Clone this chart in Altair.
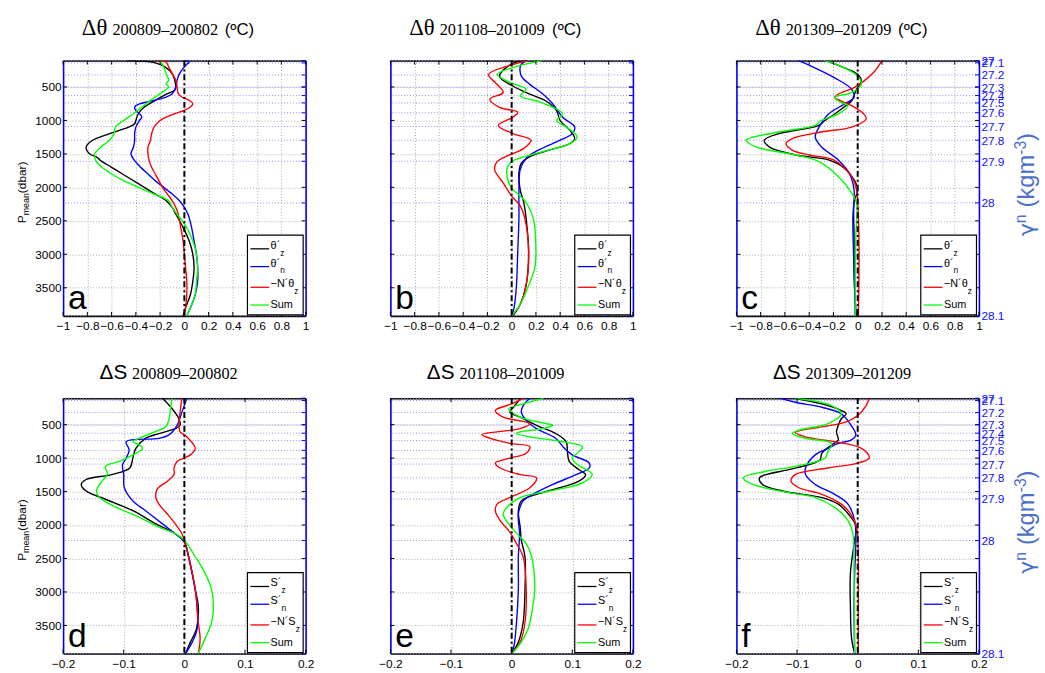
import altair as alt
import pandas as pd

W, H = 246, 259
P_DOMAIN = [105, 3920]
P_TICKS = [500, 1000, 1500, 2000, 2500, 3000, 3500]
THETA_TICKS = [-1, -0.8, -0.6, -0.4, -0.2, 0, 0.2, 0.4, 0.6, 0.8, 1]
S_TICKS = [-0.2, -0.1, 0, 0.1, 0.2]
GAMMA_P = [105, 140, 320, 502, 628, 738, 885, 1090, 1295, 1610, 2232, 3920]
GAMMA_LABELS = ["27", "27.1", "27.2", "27.3", "27.4", "27.5", "27.6", "27.7", "27.8", "27.9", "28", "28.1"]
SERIES = ["z", "n", "N", "sum"]
COLORS = ["#000000", "#0000ff", "#ff0000", "#00ff00"]

# ---- panel a : delta theta 200809-200802 (pressure, value)
a_z = [(105,-0.48),(120,-0.3),(150,-0.22),(200,-0.16),(300,-0.1),(400,-0.08),(500,-0.07),(550,-0.08),(600,-0.14),(700,-0.24),(800,-0.33),(900,-0.38),(1000,-0.4),(1050,-0.41),(1100,-0.46),(1200,-0.62),(1300,-0.76),(1400,-0.81),(1500,-0.78),(1550,-0.72),(1600,-0.69),(1700,-0.6),(1800,-0.51),(1900,-0.42),(2000,-0.33),(2100,-0.24),(2200,-0.15),(2300,-0.1),(2400,-0.07),(2600,-0.01),(2800,0.04),(3000,0.07),(3200,0.08),(3400,0.07),(3600,0.05),(3800,0.01),(3920,-0.01)]
a_n = [(105,0.01),(130,0.04),(160,0.02),(200,0.0),(300,-0.04),(400,-0.06),(500,-0.07),(600,-0.1),(650,-0.15),(700,-0.25),(760,-0.38),(800,-0.41),(850,-0.4),(900,-0.37),(950,-0.35),(1000,-0.37),(1100,-0.4),(1200,-0.41),(1300,-0.41),(1400,-0.42),(1500,-0.44),(1600,-0.41),(1700,-0.36),(1800,-0.3),(1900,-0.24),(2000,-0.17),(2100,-0.1),(2200,-0.04),(2300,0.0),(2400,0.03),(2600,0.06),(2800,0.08),(3000,0.1),(3200,0.11),(3400,0.11),(3600,0.09),(3800,0.05),(3920,0.02)]
a_N = [(105,-0.23),(130,-0.15),(200,-0.13),(300,-0.1),(400,-0.07),(500,-0.06),(600,-0.05),(650,-0.02),(700,0.04),(750,0.07),(800,0.05),(850,0.0),(900,-0.08),(950,-0.15),(1000,-0.2),(1100,-0.25),(1200,-0.27),(1300,-0.28),(1400,-0.3),(1500,-0.3),(1600,-0.29),(1700,-0.27),(1800,-0.24),(1900,-0.21),(2000,-0.18),(2100,-0.14),(2200,-0.1),(2300,-0.07),(2400,-0.05),(2600,-0.03),(2800,-0.01),(3000,0.0),(3200,0.01),(3400,0.02),(3600,0.02),(3800,0.01),(3920,0.0)]
a_sum = [(105,-0.2),(200,-0.17),(300,-0.15),(400,-0.13),(450,-0.15),(500,-0.13),(600,-0.2),(700,-0.28),(800,-0.35),(900,-0.42),(1000,-0.5),(1100,-0.57),(1200,-0.58),(1300,-0.62),(1400,-0.69),(1500,-0.74),(1600,-0.73),(1700,-0.68),(1800,-0.6),(1900,-0.5),(2000,-0.38),(2100,-0.25),(2200,-0.13),(2300,-0.1),(2400,-0.06),(2600,0.02),(2800,0.07),(3000,0.1),(3200,0.11),(3400,0.1),(3600,0.09),(3800,0.05),(3920,0.02)]

# ---- panel b : delta theta 201108-201009
b_z = [(107,0.11),(156,0.0),(338,-0.1),(485,0.01),(608,0.15),(706,0.28),(854,0.37),(1001,0.4),(1148,0.48),(1271,0.52),(1345,0.48),(1443,0.31),(1541,0.15),(1639,0.08),(1786,0.06),(2032,0.07),(2228,0.1),(2474,0.12),(2965,0.14),(3456,0.12),(3750,0.07),(3920,0.01)]
b_n = [(107,0.12),(160,0.08),(200,0.07),(338,0.08),(461,0.15),(608,0.26),(755,0.34),(952,0.42),(1099,0.52),(1197,0.5),(1295,0.4),(1443,0.22),(1565,0.12),(1737,0.07),(2032,0.06),(2474,0.06),(2965,0.05),(3456,0.04),(3800,0.02),(3920,0.0)]
b_N = [(107,0.14),(166,0.01),(313,-0.19),(461,-0.12),(583,-0.07),(682,-0.18),(804,-0.1),(878,0.05),(952,0.01),(1074,-0.11),(1197,0.01),(1295,0.16),(1418,0.1),(1615,-0.12),(1737,-0.14),(1934,-0.07),(2130,0.0),(2277,0.07),(2474,0.11),(2965,0.14),(3456,0.12),(3750,0.07),(3920,0.0)]
b_sum = [(107,0.25),(210,0.01),(313,-0.12),(436,-0.01),(534,0.12),(633,0.07),(706,0.2),(804,0.34),(903,0.42),(1001,0.37),(1099,0.45),(1246,0.54),(1345,0.48),(1467,0.26),(1615,0.0),(1737,-0.04),(1983,-0.01),(2130,0.07),(2228,0.12),(2474,0.18),(2965,0.2),(3210,0.19),(3554,0.12),(3750,0.07),(3920,0.0)]

# ---- panel c : delta theta 201309-201209
c_z = [(107,-0.26),(191,-0.14),(313,0.0),(412,0.03),(534,-0.01),(706,-0.05),(755,-0.08),(903,-0.19),(1001,-0.27),(1074,-0.32),(1148,-0.51),(1197,-0.65),(1295,-0.77),(1394,-0.73),(1516,-0.51),(1590,-0.24),(1713,-0.11),(1885,-0.03),(2032,0.0),(2228,-0.03),(2719,-0.03),(3210,-0.03),(3701,-0.02),(3920,-0.01)]
c_n = [(107,-0.49),(191,-0.38),(363,-0.19),(534,-0.05),(657,-0.03),(755,-0.11),(903,-0.24),(1074,-0.31),(1246,-0.35),(1394,-0.3),(1590,-0.16),(1786,-0.07),(2032,-0.03),(2474,-0.04),(3210,-0.03),(3920,-0.02)]
c_N = [(107,0.2),(264,0.14),(412,0.05),(510,-0.03),(608,-0.16),(657,-0.19),(706,-0.14),(780,-0.05),(903,0.05),(976,0.07),(1099,-0.05),(1173,-0.3),(1271,-0.54),(1345,-0.59),(1443,-0.54),(1516,-0.4),(1590,-0.2),(1836,-0.05),(2032,-0.01),(2228,0.0),(2719,0.01),(3456,0.01),(3920,0.005)]
c_sum = [(107,-0.27),(191,-0.14),(338,0.0),(461,0.03),(583,-0.05),(657,-0.19),(731,-0.14),(780,-0.08),(903,-0.16),(1001,-0.3),(1074,-0.35),(1173,-0.65),(1295,-0.92),(1394,-0.84),(1516,-0.51),(1615,-0.32),(1836,-0.16),(2081,-0.05),(2228,-0.01),(2719,-0.015),(3210,-0.02),(3920,-0.02)]

# ---- panel d : delta S 200809-200802
d_z = [(107,-0.036),(264,-0.02),(412,-0.009),(510,-0.007),(559,-0.015),(633,-0.042),(706,-0.064),(854,-0.08),(1001,-0.085),(1148,-0.09),(1246,-0.12),(1320,-0.162),(1394,-0.17),(1492,-0.162),(1615,-0.13),(1786,-0.085),(1983,-0.047),(2130,-0.015),(2253,0.0),(2474,0.007),(2965,0.018),(3210,0.023),(3554,0.02),(3750,0.01),(3920,0.002)]
d_n = [(107,0.004),(313,-0.004),(510,-0.012),(657,-0.026),(706,-0.042),(755,-0.096),(878,-0.091),(1001,-0.096),(1099,-0.102),(1246,-0.1),(1443,-0.099),(1639,-0.085),(1786,-0.064),(1983,-0.036),(2130,-0.015),(2253,0.0),(2474,0.007),(2965,0.018),(3210,0.021),(3554,0.021),(3750,0.013),(3920,0.002)]
d_N = [(107,-0.004),(313,-0.007),(510,-0.009),(608,-0.007),(682,0.004),(854,0.018),(952,0.01),(1001,-0.001),(1050,-0.012),(1148,-0.017),(1246,-0.017),(1345,-0.028),(1467,-0.045),(1590,-0.047),(1688,-0.042),(1836,-0.028),(1983,-0.015),(2130,-0.004),(2277,0.001),(2474,0.007),(2965,0.018),(3456,0.023),(3701,0.026),(3920,0.023)]
d_sum = [(107,-0.02),(264,-0.023),(412,-0.025),(534,-0.031),(583,-0.042),(682,-0.069),(755,-0.085),(804,-0.074),(854,-0.069),(952,-0.085),(1050,-0.107),(1124,-0.13),(1246,-0.127),(1345,-0.136),(1492,-0.145),(1590,-0.14),(1737,-0.112),(1885,-0.074),(2032,-0.042),(2130,-0.015),(2228,0.0),(2474,0.018),(2719,0.034),(2965,0.045),(3210,0.048),(3456,0.045),(3701,0.034),(3920,0.023)]

# ---- panel e : delta S 201108-201009
e_z = [(117,0.014),(240,0.003),(313,-0.003),(387,0.014),(510,0.041),(633,0.073),(755,0.09),(903,0.092),(1050,0.095),(1173,0.111),(1246,0.122),(1345,0.111),(1443,0.079),(1541,0.041),(1639,0.016),(1786,0.011),(2032,0.014),(2228,0.016),(2474,0.022),(2965,0.022),(3456,0.019),(3750,0.011),(3920,0.0)]
e_n = [(107,0.03),(215,0.019),(313,0.016),(436,0.024),(559,0.041),(706,0.073),(854,0.087),(952,0.1),(1074,0.128),(1148,0.128),(1246,0.106),(1394,0.068),(1541,0.035),(1639,0.019),(1836,0.011),(2130,0.013),(2474,0.011),(2965,0.011),(3456,0.008),(3800,0.004),(3920,0.0)]
e_N = [(107,0.019),(191,0.0),(289,-0.027),(387,-0.014),(485,0.03),(559,0.014),(608,-0.024),(647,-0.049),(706,-0.035),(780,-0.003),(829,0.03),(927,0.024),(1001,-0.003),(1074,-0.027),(1148,-0.019),(1246,0.014),(1295,0.041),(1443,0.03),(1565,0.003),(1688,-0.024),(1786,-0.027),(1934,-0.019),(2106,-0.003),(2277,0.008),(2474,0.019),(2965,0.024),(3456,0.022),(3750,0.014),(3920,0.0)]
e_sum = [(107,0.052),(191,0.019),(264,-0.005),(387,0.014),(485,0.057),(510,0.068),(559,0.052),(608,0.014),(633,0.008),(682,0.03),(755,0.084),(829,0.117),(903,0.111),(1001,0.1),(1099,0.109),(1197,0.128),(1246,0.133),(1369,0.117),(1492,0.063),(1590,0.014),(1737,-0.008),(1836,-0.014),(1983,-0.005),(2179,0.014),(2277,0.024),(2474,0.033),(2965,0.038),(3210,0.035),(3554,0.027),(3775,0.014),(3920,0.0)]

# ---- panel f : delta S 201309-201209
f_z = [(107,-0.103),(215,-0.049),(289,-0.027),(338,-0.019),(412,-0.027),(510,-0.032),(608,-0.035),(731,-0.032),(804,-0.043),(927,-0.059),(1025,-0.062),(1099,-0.081),(1173,-0.114),(1295,-0.162),(1394,-0.157),(1492,-0.124),(1590,-0.059),(1688,-0.032),(1885,-0.011),(2032,-0.002),(2228,-0.005),(2719,-0.012),(3210,-0.012),(3701,-0.01),(3920,-0.005)]
f_n = [(107,-0.127),(166,-0.103),(240,-0.059),(338,-0.027),(510,-0.011),(657,-0.003),(731,-0.011),(780,-0.032),(854,-0.049),(952,-0.07),(1148,-0.086),(1246,-0.086),(1394,-0.07),(1541,-0.038),(1688,-0.016),(1934,-0.005),(2228,-0.003),(2719,-0.005),(3210,-0.006),(3920,-0.005)]
f_N = [(107,0.019),(215,0.014),(363,0.0),(461,-0.02),(534,-0.06),(618,-0.103),(682,-0.086),(755,-0.038),(829,0.0),(927,0.016),(1001,0.019),(1074,0.0),(1148,-0.049),(1246,-0.103),(1345,-0.11),(1443,-0.097),(1541,-0.059),(1688,-0.027),(1885,-0.008),(2081,-0.001),(2474,0.001),(3210,0.001),(3920,0.001)]
f_sum = [(107,-0.103),(215,-0.043),(338,-0.027),(485,-0.049),(583,-0.097),(633,-0.108),(706,-0.086),(780,-0.043),(903,-0.049),(1001,-0.054),(1124,-0.103),(1197,-0.151),(1295,-0.189),(1394,-0.173),(1516,-0.114),(1590,-0.07),(1737,-0.038),(1934,-0.016),(2130,-0.008),(2719,-0.006),(3920,-0.005)]

DUMMY = pd.DataFrame({"d": [0]})
GAMMA_DF = pd.DataFrame({"p": GAMMA_P, "g": GAMMA_LABELS})
PT_DF = pd.DataFrame({"p": P_TICKS})
ZERO_DF = pd.DataFrame({"x0": [0]})
LABEL_EXPR = " : ".join(f"datum.value == {p} ? '{g}'" for p, g in zip(GAMMA_P, GAMMA_LABELS)) + " : ''"
GRID = "#a9a9a9"
RTITLE = "#4a6fcc"


def txt(s, x, y, size, font="Liberation Sans", color="black", baseline="alphabetic", angle=0):
    kw = dict(text=s, font=font, fontSize=size, color=color, align="left", baseline=baseline)
    if angle:
        kw["angle"] = angle
    return alt.Chart(DUMMY).mark_text(**kw).encode(x=alt.value(x), y=alt.value(y))


def spacer(x, y):
    # tiny white stroke outside the plot, only used to fix the panel's layout bounds
    return alt.Chart(DUMMY).mark_rule(color="white", strokeWidth=1).encode(
        x=alt.value(x), x2=alt.value(x + 0.5), y=alt.value(y), y2=alt.value(y + 0.5))


def make_panel(series, xdom, xticks, letter, sym, dates, row, left_title, right_axis):
    recs = []
    for key, pts in zip(SERIES, series):
        for p, v in pts:
            recs.append({"p": p, "v": v, "series": key})
    df = pd.DataFrame(recs)
    xt_df = pd.DataFrame({"t": xticks})
    xs = alt.Scale(domain=xdom, nice=False, zero=False)
    ys = alt.Scale(domain=P_DOMAIN, reverse=True, nice=False, zero=False)

    gamma = alt.Chart(GAMMA_DF).mark_rule(color="#8f8fff", strokeDash=[1, 2], strokeWidth=1).encode(
        y=alt.Y("p:Q", scale=ys, axis=alt.Axis(
            orient="right", values=GAMMA_P, labelExpr=LABEL_EXPR, labels=right_axis, ticks=False,
            grid=False, domainColor="#0000ff", domainWidth=1.6, labelColor="#1010ff",
            labelFont="Liberation Sans", labelFontSize=12, labelPadding=2, labelOverlap=False,
            labelBaseline="middle", labelBound=False, title=None)))

    lines = alt.Chart(df).mark_line(interpolate="catmull-rom", strokeWidth=1.4, clip=True).encode(
        x=alt.X("v:Q", scale=xs, axis=alt.Axis(
            orient="bottom", values=xticks, format="~g", ticks=False, grid=True, gridColor=GRID,
            gridDash=[1, 2], gridWidth=1, domainColor="black", domainWidth=1.6,
            labelFont="Liberation Sans", labelFontSize=12, labelColor="black", labelPadding=5,
            labelFlush=False, labelOverlap=False, title=None)),
        y=alt.Y("p:Q", scale=ys, axis=alt.Axis(
            orient="left", values=P_TICKS, format="d", labels=left_title, ticks=False, grid=True,
            gridColor=GRID, gridDash=[1, 2], gridWidth=1, domainColor="#0000ff", domainWidth=1.6,
            labelFont="Liberation Sans", labelFontSize=12, labelColor="black", labelPadding=2,
            title=None)),
        color=alt.Color("series:N", scale=alt.Scale(domain=SERIES, range=COLORS), legend=None),
        order=alt.Order("p:Q"),
    )

    zero = alt.Chart(ZERO_DF).mark_rule(color="black", strokeWidth=2, strokeDash=[6, 3, 2, 3]).encode(
        x=alt.X("x0:Q", scale=xs, axis=alt.Axis(
            orient="top", labels=False, ticks=False, grid=False, domainColor="black",
            domainWidth=1.6, title=None)))

    # short inward tick marks on all four sides (MATLAB style)
    tick_b = alt.Chart(xt_df).mark_rule(color="black", strokeWidth=1).encode(
        x=alt.X("t:Q", scale=xs, axis=None), y=alt.value(H - 4), y2=alt.value(H))
    tick_t = alt.Chart(xt_df).mark_rule(color="black", strokeWidth=1).encode(
        x=alt.X("t:Q", scale=xs, axis=None), y=alt.value(0), y2=alt.value(4))
    tick_l = alt.Chart(PT_DF).mark_rule(color="black", strokeWidth=1).encode(
        y=alt.Y("p:Q", scale=ys, axis=None), x=alt.value(0), x2=alt.value(4))
    tick_r = alt.Chart(PT_DF).mark_rule(color="black", strokeWidth=1).encode(
        y=alt.Y("p:Q", scale=ys, axis=None), x=alt.value(W - 4), x2=alt.value(W))
    tick_g = alt.Chart(GAMMA_DF).mark_rule(color="#0000ff", strokeWidth=1).encode(
        y=alt.Y("p:Q", scale=ys, axis=None), x=alt.value(W - 4), x2=alt.value(W))

    layers = [gamma, lines, zero, tick_b, tick_t, tick_l, tick_r, tick_g]

    # legend box
    layers.append(alt.Chart(DUMMY).mark_rect(fill="white", stroke="black", strokeWidth=1.2).encode(
        x=alt.value(187), x2=alt.value(243.5), y=alt.value(177), y2=alt.value(258)))
    ly = [191, 209, 230, 248]
    for c, yy in zip(COLORS, ly):
        layers.append(alt.Chart(DUMMY).mark_rule(color=c, strokeWidth=1.3).encode(
            x=alt.value(190), x2=alt.value(209), y=alt.value(yy)))
    base = "θ´" if sym == "θ" else "S´"
    w1 = 9.8 if sym == "θ" else 11.0
    w3 = 24.1 if sym == "θ" else 25.4
    tx = 210.5
    layers += [
        txt(base, tx, ly[0] - 3, 11, baseline="middle"),
        txt("z", tx + w1, ly[0] + 4, 8.5, baseline="middle"),
        txt(base, tx, ly[1] - 3, 11, baseline="middle"),
        txt("n", tx + w1, ly[1] + 4, 8.5, baseline="middle"),
        txt("−N´" + sym, tx, ly[2] - 3, 11, baseline="middle"),
        txt("z", tx + w3, ly[2] + 4, 8.5, baseline="middle"),
        txt("Sum", tx, ly[3], 11, baseline="middle"),
    ]

    # panel letter
    layers.append(txt(letter, 5, H - 6.5, 34))

    # panel title
    if row == 0:
        layers += [
            txt("Δθ", 19, -25.5, 23, font="Liberation Serif"),
            txt(dates, 50, -25.5, 16.5, font="Liberation Serif"),
            txt("(ºC)", 164, -25.5, 17),
            spacer(100, -52),
        ]
    else:
        layers += [
            txt("ΔS", 37, -19, 21),
            txt(dates, 70, -19, 16.5, font="Liberation Serif"),
            spacer(100, -45),
        ]
    layers.append(spacer(100, H + 20))

    if left_title:
        layers += [
            txt("P", -42, 165, 12, angle=270, baseline="middle"),
            txt("mean", -38, 157, 9, angle=270, baseline="middle"),
            txt("(dbar)", -42, 134.5, 12, angle=270, baseline="middle"),
            spacer(-50, H / 2),
            spacer(W + 15, H / 2),
        ]
    elif right_axis:
        layers += [
            txt("γ", 302, 178, 22, font="DejaVu Sans", color=RTITLE, angle=270),
            txt("n", 294, 165, 16, color=RTITLE, angle=270),
            txt("(kgm", 302, 149, 24, color=RTITLE, angle=270),
            txt("-3", 294, 95.5, 16, color=RTITLE, angle=270),
            txt(")", 302, 81.5, 24, color=RTITLE, angle=270),
            spacer(-33, H / 2),
        ]
    else:
        layers += [spacer(-14, H / 2), spacer(W + 15, H / 2)]

    return alt.layer(*layers).resolve_axis(x="independent", y="independent").properties(width=W, height=H)


pa = make_panel([a_z, a_n, a_N, a_sum], [-1, 1], THETA_TICKS, "a", "θ", "200809–200802", 0, True, False)
pb = make_panel([b_z, b_n, b_N, b_sum], [-1, 1], THETA_TICKS, "b", "θ", "201108–201009", 0, False, False)
pc = make_panel([c_z, c_n, c_N, c_sum], [-1, 1], THETA_TICKS, "c", "θ", "201309–201209", 0, False, True)
pd_ = make_panel([d_z, d_n, d_N, d_sum], [-0.2, 0.2], S_TICKS, "d", "S", "200809–200802", 1, True, False)
pe = make_panel([e_z, e_n, e_N, e_sum], [-0.2, 0.2], S_TICKS, "e", "S", "201108–201009", 1, False, False)
pf = make_panel([f_z, f_n, f_N, f_sum], [-0.2, 0.2], S_TICKS, "f", "S", "201309–201209", 1, False, True)

row1 = alt.hconcat(pa, pb, pc, spacing=54)
row2 = alt.hconcat(pd_, pe, pf, spacing=54)
chart = alt.vconcat(row1, row2, spacing=15.5).properties(
    padding={"left": 13, "top": 3.5, "right": 5, "bottom": 5}
).configure_view(stroke=None).configure(background="white")

chart.save("out.html", embed_options={"renderer": "svg", "actions": False})
